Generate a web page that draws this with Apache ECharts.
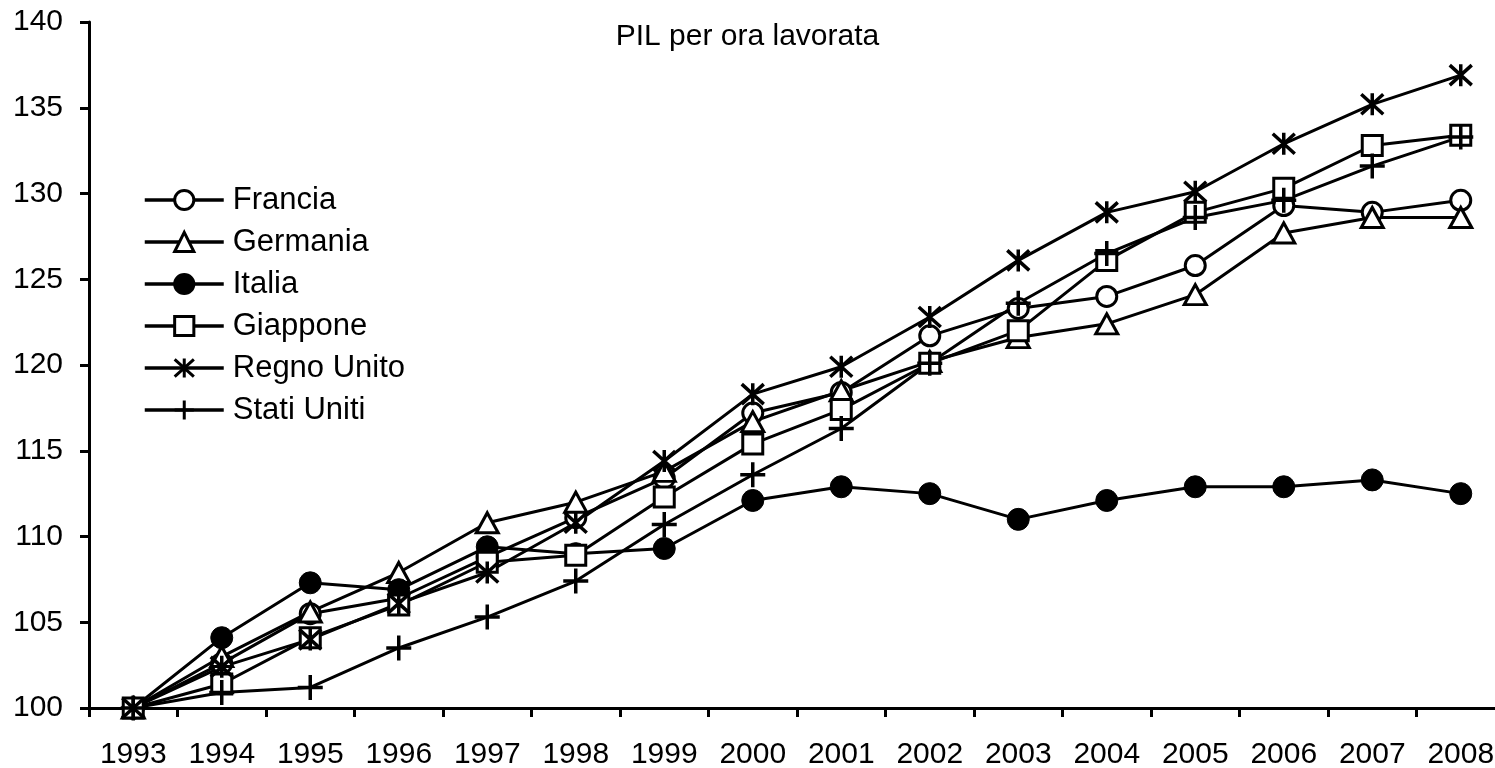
<!DOCTYPE html>
<html>
<head>
<meta charset="utf-8">
<script src="https://cdn.jsdelivr.net/npm/echarts@6/dist/echarts.min.js"></script>
<style>
  html, body { margin: 0; padding: 0; background: #fff; }
  #chart { width: 1495px; height: 768px; }
</style>
</head>
<body>
<div id="chart"></div>
<script>
  // anni
  const years = ['1993', '1994', '1995', '1996', '1997', '1998', '1999', '2000',
    '2001', '2002', '2003', '2004', '2005', '2006', '2007', '2008']

  // PIL per ora lavorata, 1993 = 100
  const francia = [100, 102.6, 105.5, 106.4, 108.8, 111.1, 113.4, 117.2, 118.4, 121.7, 123.3, 124.0, 125.8, 129.3, 128.9, 129.6]
  const germania = [100, 103.0, 105.6, 107.9, 110.8, 112.0, 113.8, 116.7, 118.5, 120.2, 121.6, 122.4, 124.1, 127.7, 128.6, 128.6]
  const italia = [100, 104.1, 107.3, 106.9, 109.4, 109.0, 109.3, 112.1, 112.9, 112.5, 111.0, 112.1, 112.9, 112.9, 113.3, 112.5]
  const giappone = [100, 101.4, 104.1, 106.0, 108.5, 108.9, 112.3, 115.4, 117.4, 120.1, 122.0, 126.1, 128.9, 130.3, 132.8, 133.4]
  const regnoUnito = [100, 102.4, 104.0, 106.1, 107.9, 110.8, 114.4, 118.3, 119.9, 122.8, 126.1, 128.9, 130.1, 132.9, 135.2, 136.9]
  const statiUniti = [100, 100.9, 101.2, 103.5, 105.3, 107.4, 110.7, 113.6, 116.3, 120.1, 123.6, 126.5, 128.6, 129.6, 131.6, 133.3]

  const font = "'Liberation Sans', Arial, sans-serif"
  const chart = echarts.init(document.getElementById('chart'), null, { renderer: 'canvas' })

  function makeSeries(name, data, symbol, size, fill, bw) {
    return {
      name: name,
      type: 'line',
      data: data,
      symbol: symbol,
      symbolSize: size,
      showAllSymbol: true,
      animation: false,
      lineStyle: { color: '#000', width: 3 },
      itemStyle: { color: fill, borderColor: '#000', borderWidth: bw || 3 },
      emphasis: { disabled: true }
    }
  }

  const starPath = 'path://M0,0L20,20M0,20L20,0M10,-1L10,21'
  const plusPath = 'path://M0,12L24,12M12,0L12,24'

  chart.setOption({
    backgroundColor: '#fff',
    animation: false,
    textStyle: { fontFamily: font },
    title: {
      text: 'PIL per ora lavorata',
      left: 'center',
      top: 17,
      textStyle: { fontFamily: font, fontSize: 30, fontWeight: 'normal', color: '#000' }
    },
    legend: {
      orient: 'vertical',
      left: 143,
      top: 184,
      padding: 0,
      itemWidth: 79,
      itemHeight: 24,
      itemGap: 10,
      lineStyle: { color: '#000', width: 3.5 },
      itemStyle: { borderColor: '#000', borderWidth: 3 },
      textStyle: { fontFamily: font, fontSize: 31, color: '#000', padding: [0, 0, 0, 4], lineHeight: 32 },
      data: ['Francia', 'Germania', 'Italia', 'Giappone', 'Regno Unito', 'Stati Uniti']
    },
    grid: { left: 89, top: 22, bottom: 60, right: -10, containLabel: false, outerBoundsMode: 'none' },
    xAxis: {
      type: 'category',
      data: years,
      boundaryGap: true,
      axisLine: { lineStyle: { color: '#000', width: 3 } },
      axisTick: { show: true, length: 9, lineStyle: { color: '#000', width: 3 } },
      axisLabel: { color: '#000', fontSize: 30, fontFamily: font, margin: 32, interval: 0 },
      splitLine: { show: false }
    },
    yAxis: {
      type: 'value',
      min: 100,
      max: 140,
      interval: 5,
      axisLine: { show: true, lineStyle: { color: '#000', width: 3 } },
      axisTick: { show: true, length: 9, lineStyle: { color: '#000', width: 3 } },
      axisLabel: { color: '#000', fontSize: 30, fontFamily: font, margin: 26 },
      splitLine: { show: false }
    },
    series: [
      makeSeries('Francia', francia, 'circle', 20, '#fff'),
      makeSeries('Germania', germania, 'triangle', [22, 20], '#fff'),
      makeSeries('Italia', italia, 'circle', 22, '#000', 1),
      makeSeries('Giappone', giappone, 'rect', 20, '#fff'),
      makeSeries('Regno Unito', regnoUnito, starPath, 22, '#000', 3.5),
      makeSeries('Stati Uniti', statiUniti, plusPath, 25, '#000', 3.5)
    ]
  })
</script>
</body>
</html>
